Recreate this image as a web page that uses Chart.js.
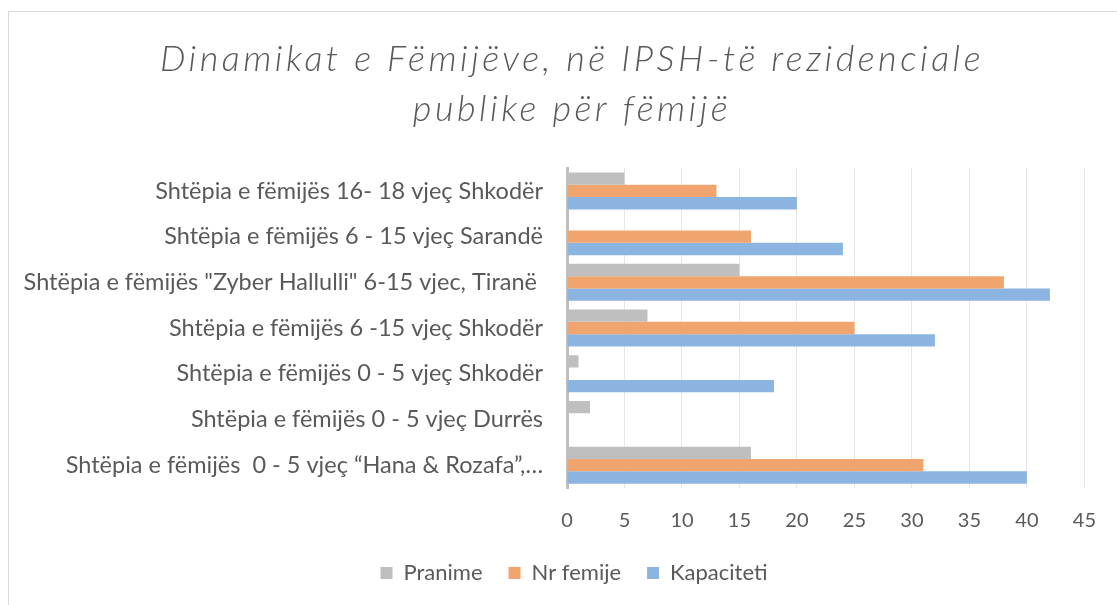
<!DOCTYPE html>
<html>
<head>
<meta charset="utf-8">
<script src="https://cdn.jsdelivr.net/npm/chart.js@4.4.1/dist/chart.umd.min.js"></script>
<style>
    html, body { margin: 0; padding: 0; background: #fff; overflow: hidden; }
    #frame { position: absolute; left: 8px; top: 11px; width: 1300px; height: 800px; border: 1px solid #d9d9d9; }
    #wrap { position: absolute; left: 0; top: 0; width: 1117px; height: 605px; }
</style>
</head>
<body>
<div id="frame"></div>
<div id="wrap"><canvas id="myChart"></canvas></div>
<script>
// categories top to bottom as shown
const categories = [
    'Shtëpia e fëmijës 16- 18 vjeç Shkodër',
    'Shtëpia e fëmijës 6 - 15 vjeç Sarandë',
    'Shtëpia e fëmijës "Zyber Hallulli" 6-15 vjec, Tiranë ',
    'Shtëpia e fëmijës 6 -15 vjeç Shkodër',
    'Shtëpia e fëmijës 0 - 5 vjeç Shkodër',
    'Shtëpia e fëmijës 0 - 5 vjeç Durrës',
    'Shtëpia e fëmijës  0 - 5 vjeç “Hana & Rozafa”,…'
];
const pranime = [5, 0, 15, 7, 1, 2, 16];
const nrFemije = [13, 16, 38, 25, 0, 0, 31];
const kapaciteti = [20, 24, 42, 32, 18, 0, 40];

const textColor = '#595959';

Chart.defaults.color = textColor;
Chart.defaults.font.family = 'Lato, "Open Sans", sans-serif';
Chart.defaults.font.size = 20;

const chart = new Chart(document.getElementById('myChart'), {
    type: 'bar',
    data: {
        labels: categories,
        datasets: [
            { label: 'Pranime', data: pranime, backgroundColor: '#bfbfbf' },
            { label: 'Nr femije', data: nrFemije, backgroundColor: '#f0a56e' },
            { label: 'Kapaciteti', data: kapaciteti, backgroundColor: '#8bb5e0' }
        ]
    },
    options: {
        indexAxis: 'y',
        responsive: true,
        maintainAspectRatio: false,
        animation: false,
        datasets: {
            bar: { categoryPercentage: 0.81, barPercentage: 1.0 }
        },
        layout: {
            padding: { left: 0, right: 29, top: 0, bottom: 11 }
        },
        scales: {
            x: {
                min: 0,
                max: 45,
                ticks: { stepSize: 5, padding: 21, color: textColor, font: { size: 20 } },
                grid: { color: '#e6e6e6', lineWidth: 1, drawTicks: false },
                border: { display: false },
                afterFit: function (scale) {
                    scale.height = 48;
                }
            },
            y: {
                ticks: { padding: 24, autoSkip: false, color: textColor, font: { size: 23.5 } },
                grid: { display: false, drawTicks: false },
                border: { display: true, color: '#bfbfbf', width: 3 },
                afterFit: function (scale) {
                    scale.width = 567; // plot starts at x=567 like the reference
                }
            }
        },
        plugins: {
            title: {
                display: true,
                text: ['Dinamikat e Fëmijëve, në IPSH-të rezidenciale', 'publike për fëmijë'],
                color: textColor,
                font: { size: 36, style: 'italic', weight: 300, lineHeight: 1.39 },
                padding: { top: 34, bottom: 34 }
            },
            legend: {
                position: 'bottom',
                labels: {
                    boxWidth: 12,
                    boxHeight: 12,
                    padding: 26,
                    color: textColor,
                    font: { size: 22 }
                }
            },
            tooltip: { enabled: false }
        }
    }
});

// title is letter-spaced and, like the legend, centred a bit right of the canvas middle
const titleDraw = chart.titleBlock.draw;
chart.titleBlock.draw = function (area) {
    const ctx = chart.ctx;
    ctx.save();
    ctx.translate(28, 0);
    ctx.letterSpacing = '3.5px';
    titleDraw.call(this, area);
    ctx.restore();
};
const legendDraw = chart.legend.draw;
chart.legend.draw = function (area) {
    const ctx = chart.ctx;
    ctx.save();
    ctx.translate(30, 0);
    legendDraw.call(this, area);
    ctx.restore();
};
chart.update('none');
</script>
</body>
</html>
